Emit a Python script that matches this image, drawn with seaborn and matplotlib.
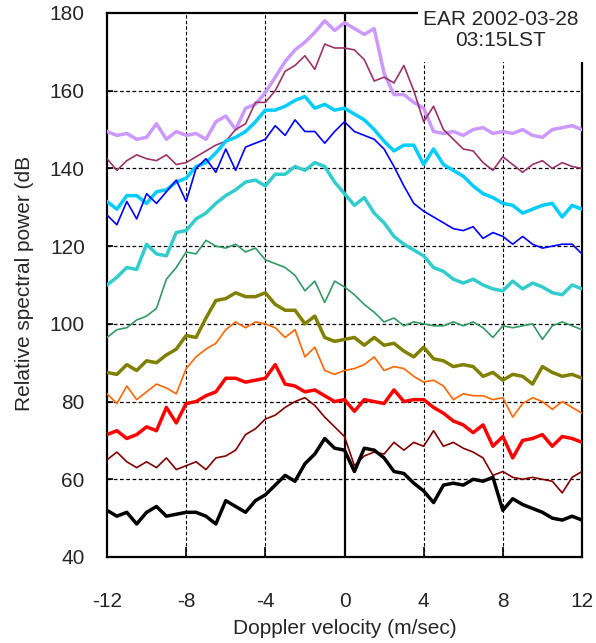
import numpy as np
import pandas as pd
import matplotlib
matplotlib.use("Agg")
import matplotlib.pyplot as plt
from matplotlib.patches import Rectangle
import seaborn as sns

# Doppler velocity axis (m/sec)
velocity = np.arange(-12.0, 12.01, 0.5)

# Relative spectral power (dB) of each height channel, top to bottom
p_purple = [149.5, 148.5, 149, 147.5, 148, 151.5, 147.5, 149.5, 148.5, 149, 147.5, 152, 153.5,
            150, 155.5, 156.5, 159.5, 163.5, 167.5, 170.5, 172.5, 175, 178, 175.5, 177.5,
            176, 174.5, 176, 164.5, 159, 159, 157, 155.5, 149.5, 149, 149.5, 148.5, 150, 150.5,
            149, 149.5, 149, 150, 148.5, 148, 150, 150.5, 151, 150]
p_plum = [142.5, 139.5, 142, 143.5, 142.5, 142, 143.5, 141, 141.5, 143, 144.5, 146, 147,
          150, 151.5, 157, 157, 160, 165, 166.5, 169, 165.5, 172, 171, 171,
          170.5, 168, 162.5, 163.5, 162, 166.5, 160, 152, 156, 150, 147.5, 145, 144.5, 141.5,
          139.5, 143, 141, 139, 141, 142, 140, 141.5, 140.5, 140]
p_sky = [131.5, 129.5, 133, 133, 131, 134, 134.5, 136.5, 137.5, 140.5, 141.5, 144, 147,
         148, 149.5, 152, 155, 155, 156, 157.5, 158.5, 155.5, 156.5, 155, 155.5,
         154, 152.5, 150, 147, 144.5, 146, 146, 141, 145, 141, 139.5, 138, 135.5, 133.5,
         132.5, 131, 130.5, 128.5, 129.5, 130.5, 131, 127.5, 130.5, 129.5]
p_blue = [128, 125.5, 131.5, 127, 133.5, 131, 134, 137, 131.5, 140, 142.5, 139, 145,
          139.5, 145.5, 146.5, 147.5, 151, 148.5, 152.5, 149.5, 149.5, 146.5, 149.5, 152,
          149.5, 148.5, 147.5, 145, 140.5, 135.5, 131, 129, 127.5, 126, 124.5, 124, 125, 122,
          123.5, 122.5, 120.5, 122.5, 120.5, 119.5, 120, 120.5, 120.5, 118]
p_teal = [110, 112, 114.5, 114, 120.5, 118, 117.5, 123.5, 124, 127, 128.5, 131, 133,
          134.5, 136.5, 137, 135.5, 138.5, 138.5, 140.5, 139.5, 141.5, 140.5, 136.5, 133.5,
          130.5, 132.5, 128.5, 126, 122.5, 120.5, 119, 117.5, 114.5, 113.5, 111.5, 110.5, 111.5, 110,
          109, 108.5, 111, 109, 110.5, 109.5, 108, 107.5, 110, 109]
p_green = [96.5, 98.5, 99, 101, 102, 104, 111.5, 114.5, 118.5, 118, 121.5, 120, 119.5,
           120.5, 118.5, 119.5, 116.5, 115.5, 114.5, 112.5, 108.5, 111, 105.5, 111, 109.5,
           107.5, 105, 103, 100.5, 101.5, 99.5, 100.5, 100, 99.5, 99.5, 100.5, 99.5, 100.5, 99,
           96.5, 99.5, 99, 99.5, 100, 96, 99.5, 100.5, 99.5, 98.5]
p_olive = [87.5, 87, 89.5, 88, 90.5, 90, 92, 93.5, 97, 96.5, 101.5, 106, 106.5,
           108, 107, 107, 108, 105, 103.5, 103.5, 100, 102, 96.5, 95.5, 96,
           96.5, 94.5, 96.5, 94.5, 95, 93, 91.5, 94, 91, 90.5, 89, 89.5, 89, 86.5,
           87.5, 85.5, 87, 86.5, 84.5, 89, 87.5, 86.5, 87, 86]
p_orange = [82, 79.5, 84, 80.5, 82.5, 84.5, 83.5, 82, 88.5, 91.5, 93.5, 95, 98.5,
            100.5, 99, 100.5, 100, 99, 96.5, 98.5, 91.5, 94, 88, 87, 88,
            88.5, 89.5, 91.5, 88, 89, 88.5, 86.5, 85, 85.5, 84, 80.5, 82, 81.5, 81.5,
            80.5, 81, 76, 79.5, 81, 80, 78, 80, 78.5, 77]
p_red = [71.5, 72.5, 70.5, 71.5, 73.5, 72.5, 78.5, 74.5, 79.5, 80, 81.5, 82.5, 86,
         86, 85, 85.5, 86, 89.5, 84.5, 84, 82.5, 83, 81.5, 80, 80.5,
         77.5, 80.5, 80, 79.5, 83, 80, 80.5, 80.5, 78.5, 77, 75, 74, 72, 74,
         68.5, 71, 65.5, 70, 70.5, 71.5, 68.5, 71, 70.5, 69.5]
p_maroon = [65, 67, 64.5, 63, 64.5, 63, 65.5, 62.5, 63.5, 64.5, 62.5, 65.5, 66,
            67.5, 71.5, 73, 75.5, 76.5, 78.5, 80, 81, 79, 76, 73.5, 71,
            63.5, 66, 67, 66.5, 69.5, 67.5, 69.5, 68.5, 72.5, 68.5, 69.5, 68, 67, 65.5,
            61, 62, 60.5, 60, 60.5, 60, 59.5, 56.5, 60.5, 62]
p_black = [52, 50.5, 51.5, 48.5, 51.5, 53, 50.5, 51, 51.5, 51.5, 50.5, 48.5, 54.5,
           53, 51.5, 54.5, 56, 58.5, 61, 59.5, 64, 66.5, 70.5, 68, 67.5,
           62, 68, 67.5, 65.5, 62, 61.5, 59, 57, 54, 58.5, 59, 58.5, 60, 59.5,
           60.5, 52, 55, 53.5, 52.5, 51.5, 50, 49.5, 50.5, 49.5]

series = [
    (p_purple, "#CC99FF", "thick"),
    (p_plum, "#993366", "thin"),
    (p_sky, "#00CCFF", "thick"),
    (p_blue, "#0000FF", "thin"),
    (p_teal, "#33CCCC", "thick"),
    (p_green, "#339966", "thin"),
    (p_olive, "#808000", "thick"),
    (p_orange, "#FF6600", "thin"),
    (p_red, "#FF0000", "thick"),
    (p_maroon, "#800000", "thin"),
    (p_black, "#000000", "thick"),
]
widths = {"thick": 2.5, "thin": 1.2}

x_ticks = [-12, -8, -4, 0, 4, 8, 12]
y_ticks = [40, 60, 80, 100, 120, 140, 160, 180]

sns.set_style("white")
plt.rcParams["font.family"] = ["Liberation Sans", "DejaVu Sans"]

W, H = 596, 643
fig = plt.figure(figsize=(W / 100, H / 100), dpi=100)
ax = fig.add_axes([107 / W, (H - 557) / H, (582 - 107) / W, (557 - 13) / H])

# dashed reference grid, solid zero-velocity line
for xv in [-8, -4, 4, 8]:
    ax.axvline(xv, color="black", lw=0.8, ls=(0, (3, 2)), zorder=1)
for yv in [60, 80, 100, 120, 140, 160]:
    ax.axhline(yv, color="black", lw=0.9, ls=(0, (3, 2)), zorder=1)
ax.axvline(0, color="black", lw=1.6, zorder=1)

for values, color, kind in series:
    df = pd.DataFrame({"v": velocity, "p": values})
    sns.lineplot(data=df, x="v", y="p", color=color, linewidth=widths[kind],
                 estimator=None, ax=ax, zorder=3)

ax.set_xlim(-12, 12)
ax.set_ylim(40, 180)
ax.set_xticks(x_ticks)
ax.set_xticklabels([str(t) for t in x_ticks])
ax.set_yticks(y_ticks)
ax.set_yticklabels([str(t) for t in y_ticks])
ax.set_xlabel("")
ax.set_ylabel("")
ax.tick_params(axis="x", direction="in", length=7, width=1.2, pad=25, labelsize=15,
               bottom=True, color="black")
ax.tick_params(axis="y", direction="in", length=4, width=1.2, pad=16, labelsize=15,
               left=True, color="black")
for side in ["left", "right", "top", "bottom"]:
    ax.spines[side].set_color("black")
    ax.spines[side].set_linewidth(1.6)
    ax.spines[side].set_visible(True)

# white panel holding the station / time label in the upper-right corner
fig.patches.append(Rectangle((418 / W, 1 - 62 / H), (W - 418) / W, 62 / H,
                             transform=fig.transFigure, facecolor="white",
                             edgecolor="none", zorder=5))
fig.text(501 / W, 1 - 30 / H, "EAR 2002-03-28\n03:15LST", ha="center", va="center",
         fontsize=15, linespacing=1.1, zorder=6)

fig.text(344.5 / W, 1 - 628 / H, "Doppler velocity (m/sec)", ha="center", va="center",
         fontsize=15)
fig.text(25 / W, 1 - 283 / H, "Relative spectral power (dB", ha="center", va="center",
         rotation=90, fontsize=15)

fig.savefig("out.png", dpi=100)
